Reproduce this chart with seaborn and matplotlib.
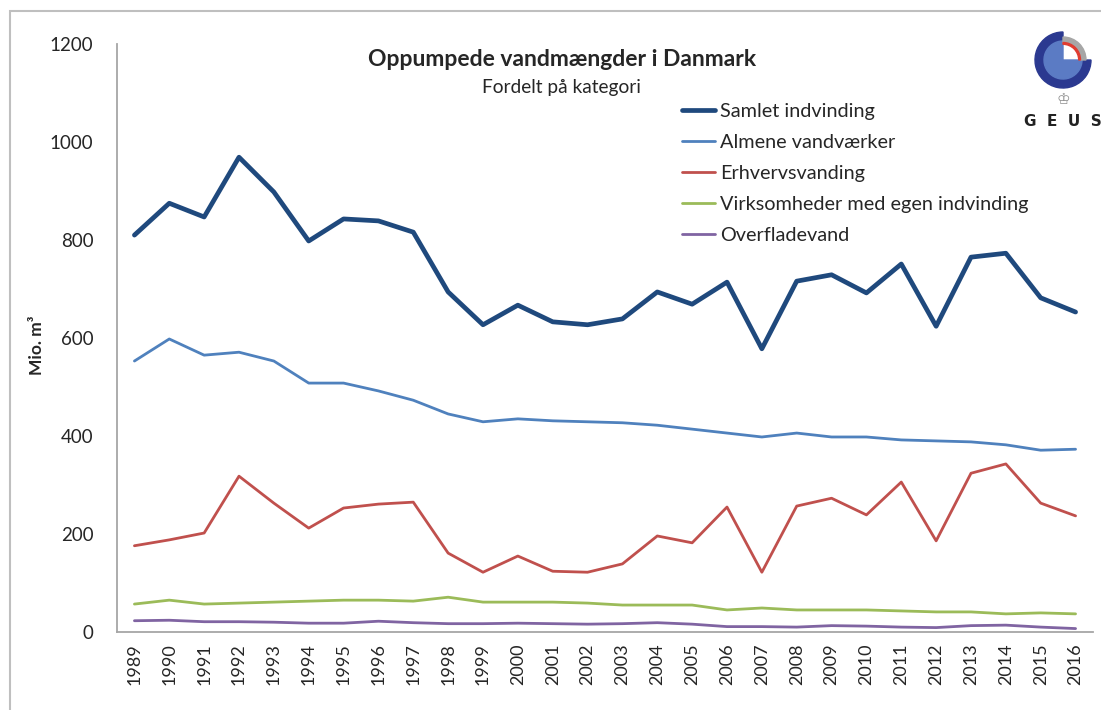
import matplotlib
matplotlib.use("Agg")
import matplotlib.pyplot as plt
import matplotlib.patches as mpatches
import seaborn as sns
import pandas as pd
import numpy as np

years = list(range(1989, 2017))
samlet = [810, 875, 847, 969, 898, 798, 843, 839, 816, 694, 627, 667, 633, 627,
          639, 694, 669, 714, 578, 716, 729, 692, 751, 624, 765, 773, 682, 653]
almene = [553, 598, 565, 571, 553, 508, 508, 492, 473, 445, 429, 435, 431, 429,
          427, 422, 414, 406, 398, 406, 398, 398, 392, 390, 388, 382, 371, 373]
erhverv = [176, 188, 202, 318, 263, 212, 253, 261, 265, 161, 122, 155, 124, 122,
           139, 196, 182, 255, 122, 257, 273, 239, 306, 186, 324, 343, 263, 237]
virksomheder = [57, 65, 57, 59, 61, 63, 65, 65, 63, 71, 61, 61, 61, 59,
                55, 55, 55, 45, 49, 45, 45, 45, 43, 41, 41, 37, 39, 37]
overflade = [23, 24, 21, 21, 20, 18, 18, 22, 19, 17, 17, 18, 17, 16,
             17, 19, 16, 11, 11, 10, 13, 12, 10, 9, 13, 14, 10, 7]

series_names = ["Samlet indvinding", "Almene vandværker", "Erhvervsvanding",
                "Virksomheder med egen indvinding", "Overfladevand"]
series_values = [samlet, almene, erhverv, virksomheder, overflade]
colors = ["#1F497D", "#4F81BD", "#C0504D", "#9BBB59", "#8064A2"]
widths = [3.4, 2.0, 2.0, 2.0, 2.0]

title = "Oppumpede vandmængder i Danmark"
subtitle = "Fordelt på kategori"
ylabel = "Mio. m³"

rows = []
for name, vals in zip(series_names, series_values):
    for y, v in zip(years, vals):
        rows.append({"År": y, "Værdi": v, "Serie": name})
df = pd.DataFrame(rows)

sns.set_style("white")
plt.rcParams["font.family"] = ["Lato", "DejaVu Sans"]

fig = plt.figure(figsize=(11.01, 7.10), dpi=100)
ax = fig.add_axes([117/1101, 1 - 632/710, (1093 - 117)/1101, (632 - 44)/710])

sns.lineplot(data=df, x="År", y="Værdi", hue="Serie", size="Serie",
             hue_order=series_names, size_order=series_names,
             palette=dict(zip(series_names, colors)),
             sizes=dict(zip(series_names, widths)),
             ax=ax, legend=False)

ax.set_xlim(1988.5, 2016.5)
ax.set_ylim(0, 1200)
ax.set_yticks(range(0, 1201, 200))
ax.set_xticks(years)
ax.set_xticklabels([str(y) for y in years], rotation=90, fontsize=13)
ax.tick_params(axis="y", labelsize=13.5, length=0, pad=17)
ax.tick_params(axis="x", length=0, pad=8)
ax.set_xlabel("")
ax.set_ylabel(ylabel, fontsize=12.5, fontweight="bold")
ax.yaxis.set_label_coords((45 - 117) / 976, (632 - 345) / 588)
for s in ["top", "right"]:
    ax.spines[s].set_visible(False)
for s in ["left", "bottom"]:
    ax.spines[s].set_color("#A6A6A6")
    ax.spines[s].set_linewidth(1.3)

handles = [plt.Line2D([], [], color=c, lw=w) for c, w in zip(colors, widths)]
fig.legend(handles, series_names, loc="upper left",
           bbox_to_anchor=(674/1101, 1 - 95/710), frameon=False,
           fontsize=14.3, handlelength=1.65, handletextpad=0.25,
           labelspacing=0.7, borderaxespad=0)

fig.text(562/1101, 1 - 60/710, title, ha="center", va="center",
         fontsize=16.5, fontweight="bold")
fig.text(562/1101, 1 - 87/710, subtitle, ha="center", va="center",
         fontsize=13.8)

# outer frame
fig.add_artist(mpatches.Rectangle((10/1101, -0.1), 1.2, 1 - 11/710 + 0.1,
                                  transform=fig.transFigure, fill=False,
                                  edgecolor="#BFBFBF", lw=1.5))

# GEUS logo
lax = fig.add_axes([1033/1101, 1 - 90/710, 60/1101, 60/710])
lax.set_xlim(-30, 30)
lax.set_ylim(-30, 30)
lax.set_aspect("equal")
lax.axis("off")
lax.add_patch(mpatches.Wedge((0, 0), 28, 90, 360, width=9, color="#2B3990"))
lax.add_patch(mpatches.Wedge((0, 0), 19, 90, 360, color="#5B7BC4"))
lax.add_patch(mpatches.Wedge((0, 0), 23, 0, 90, width=6, color="#A6A6A6"))
lax.add_patch(mpatches.Wedge((0, 0), 17.5, 0, 90, width=1.8, color="#E03C31"))
fig.text(1063/1101, 1 - 100/710, "♔", ha="center", va="center",
         fontsize=11, color="#8C8C8C", family=["DejaVu Sans"])
fig.text(1063/1101, 1 - 121/710, "G  E  U  S", ha="center", va="center",
         fontsize=11, fontweight="bold", color="#222222", family=["DejaVu Sans"])

fig.savefig("out.png", dpi=100, facecolor="white")
